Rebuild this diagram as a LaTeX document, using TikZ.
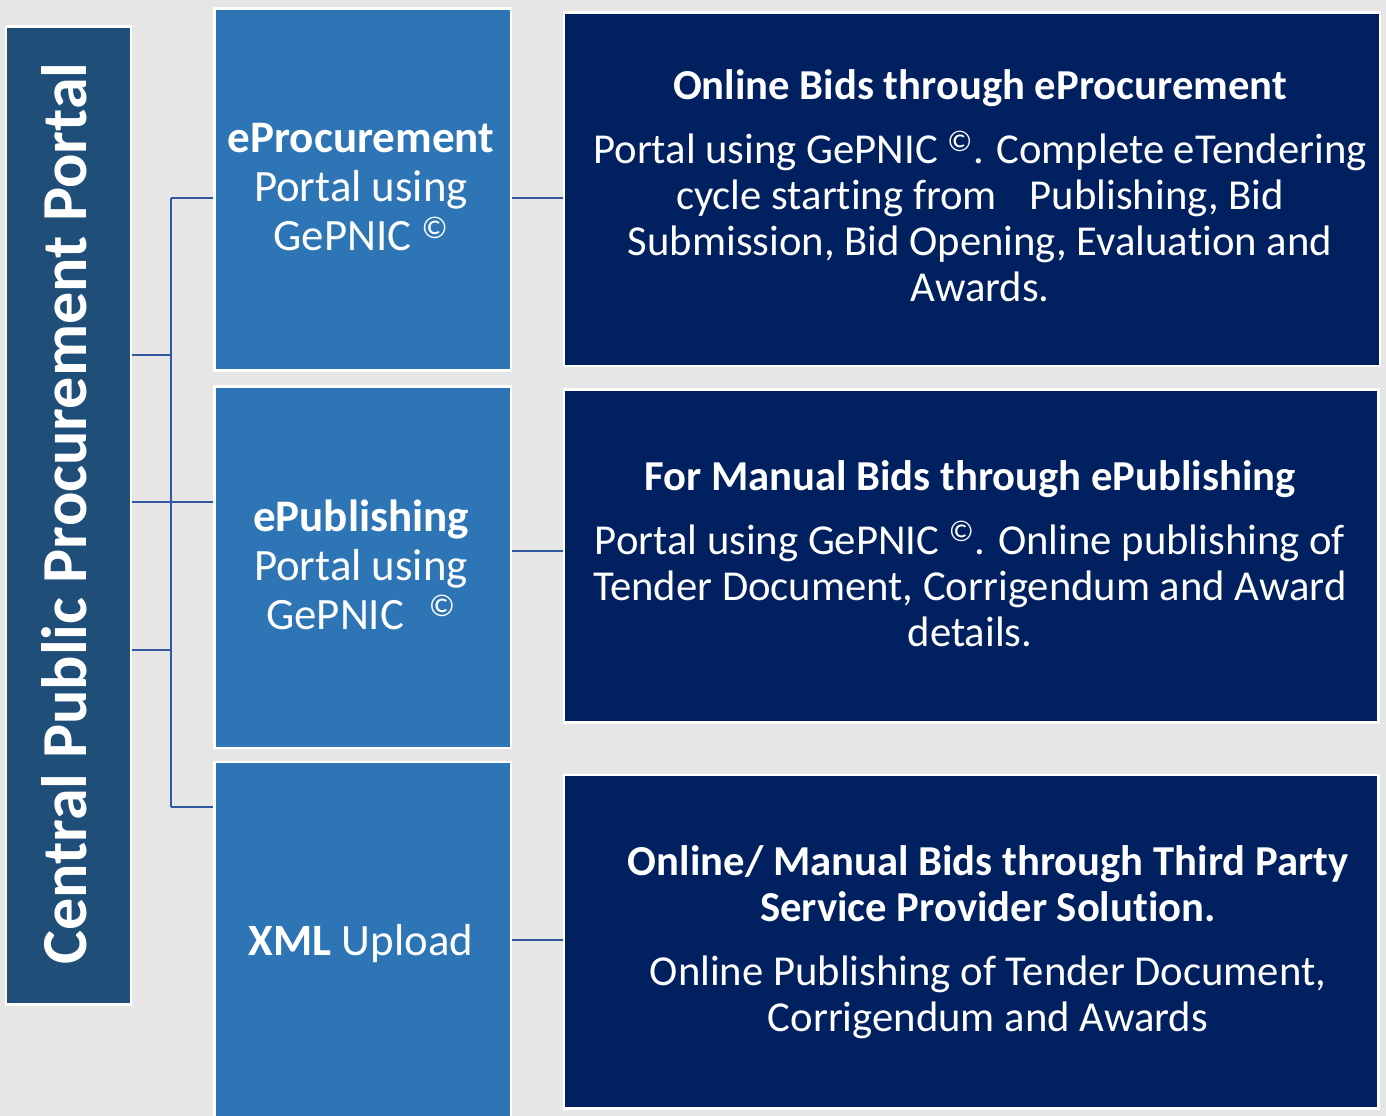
\documentclass[tikz,border=0pt]{standalone}
\usepackage{fontspec}
\setmainfont{Carlito}[Ligatures=NoCommon]
\definecolor{bgc}{HTML}{E7E6E6}
\definecolor{barc}{HTML}{1F4E79}
\definecolor{midc}{HTML}{2E75B6}
\definecolor{rightc}{HTML}{002060}
\definecolor{linec}{HTML}{3158A0}
\tikzset{
  boxbase/.style={rectangle, draw=white, line width=2pt, inner sep=0pt, anchor=north west},
  barbox/.style={boxbase, fill=barc},
  midbox/.style={boxbase, fill=midc},
  rightbox/.style={boxbase, fill=rightc},
  conn/.style={draw=linec, line width=2.2pt},
  txt/.style={text=white, inner sep=0pt, anchor=base},
  bartxt/.style={txt, font=\fontsize{48.1}{57}\selectfont\bfseries, rotate=90},
  midtxt/.style={txt, font=\fontsize{33.6}{36}\selectfont},
  midbold/.style={txt, font=\fontsize{33.8}{36}\selectfont\bfseries},
  rtxt/.style={txt, font=\fontsize{32}{35}\selectfont},
  rbold/.style={txt, font=\fontsize{32}{35}\selectfont\bfseries},
}
\begin{document}
\begin{tikzpicture}[x=0.75pt, y=-0.75pt]
\clip (0,0) rectangle (1386,1116);
\path[use as bounding box, fill=bgc] (0,0) rectangle (1386,1116);

% boxes
\node[barbox, minimum width=93.75pt, minimum height=733.5pt] (bar) at (4.7,25) {};
\node[midbox, minimum width=222.4pt, minimum height=271.1pt] (m1) at (213,7.5) {};
\node[midbox, minimum width=222.4pt, minimum height=270.75pt] (m2) at (213,385.5) {};
\node[midbox, minimum width=222.4pt, minimum height=280pt] (m3) at (213,760.5) {};
\node[rightbox, minimum width=612.2pt, minimum height=265.3pt] (r1) at (562.5,11) {};
\node[rightbox, minimum width=610.9pt, minimum height=249.75pt] (r2) at (562.5,388) {};
\node[rightbox, minimum width=610.9pt, minimum height=249.9pt] (r3) at (562.5,773.8) {};

% connectors
\coordinate (jTop) at (171,198);
\coordinate (jMid) at (171,502);
\coordinate (jBot) at (171,807);
\coordinate (jA) at (171,355);
\coordinate (jB) at (171,650);
\coordinate (k1) at (536,198);
\coordinate (k2) at (536,551);
\coordinate (k3) at (536,940);
\draw[conn] (jTop) -- (jBot);
\draw[conn] (jA -| bar.east) -- (jA);
\draw[conn] (jB -| bar.east) -- (jB);
\draw[conn] (jMid -| bar.east) -- (jMid -| m2.west);
\draw[conn] (jTop) -- (jTop -| m1.west);
\draw[conn] (jBot) -- (jBot -| m3.west);
\draw[conn] (k1 -| m1.east) -- (k1 -| r1.west);
\draw[conn] (k2 -| m2.east) -- (k2 -| r2.west);
\draw[conn] (k3 -| m3.east) -- (k3 -| r3.west);

% left bar text
\node[bartxt] (barlabel) at (86,513.5) {Central Public Procurement Portal};

% middle texts
\node[midbold] (m1a) at (361,153) {eProcurement};
\node[midtxt] (m1b) at (361,202) {Portal using};
\node[midtxt] (m1c) at (361,251) {GePNIC \textsuperscript{©}};
\node[midbold] (m2a) at (361,531) {ePublishing};
\node[midtxt] (m2b) at (361,580) {Portal using};
\node[midtxt] (m2c) at (361,629) {GePNIC \hspace{11pt}\textsuperscript{©}};
\node[midtxt] (m3a) at (361,955) {\textbf{XML} Upload};

% right texts
\node[rbold] (r1t) at (980,100) {Online Bids through eProcurement};
\node[rtxt] (r1a) at (980,164) {Portal using GePNIC \textsuperscript{©}. Complete eTendering};
\node[rtxt] (r1b) at (980,210) {cycle starting from\hspace{24.75pt}Publishing, Bid};
\node[rtxt] (r1c) at (980,256) {Submission, Bid Opening, Evaluation and};
\node[rtxt] (r1d) at (980,302) {Awards.};

\node[rbold] (r2t) at (970,490) {For Manual Bids through ePublishing};
\node[rtxt] (r2a) at (970,554) {Portal using GePNIC \textsuperscript{©}. Online publishing of};
\node[rtxt] (r2b) at (970,600) {Tender Document, Corrigendum and Award};
\node[rtxt] (r2c) at (970,646) {details.};

\node[rbold] (r3t) at (988,875) {Online/ Manual Bids through Third Party};
\node[rbold] (r3u) at (988,921) {Service Provider Solution.};
\node[rtxt] (r3a) at (988,985) {Online Publishing of Tender Document,};
\node[rtxt] (r3b) at (988,1031) {Corrigendum and Awards};
\end{tikzpicture}
\end{document}
